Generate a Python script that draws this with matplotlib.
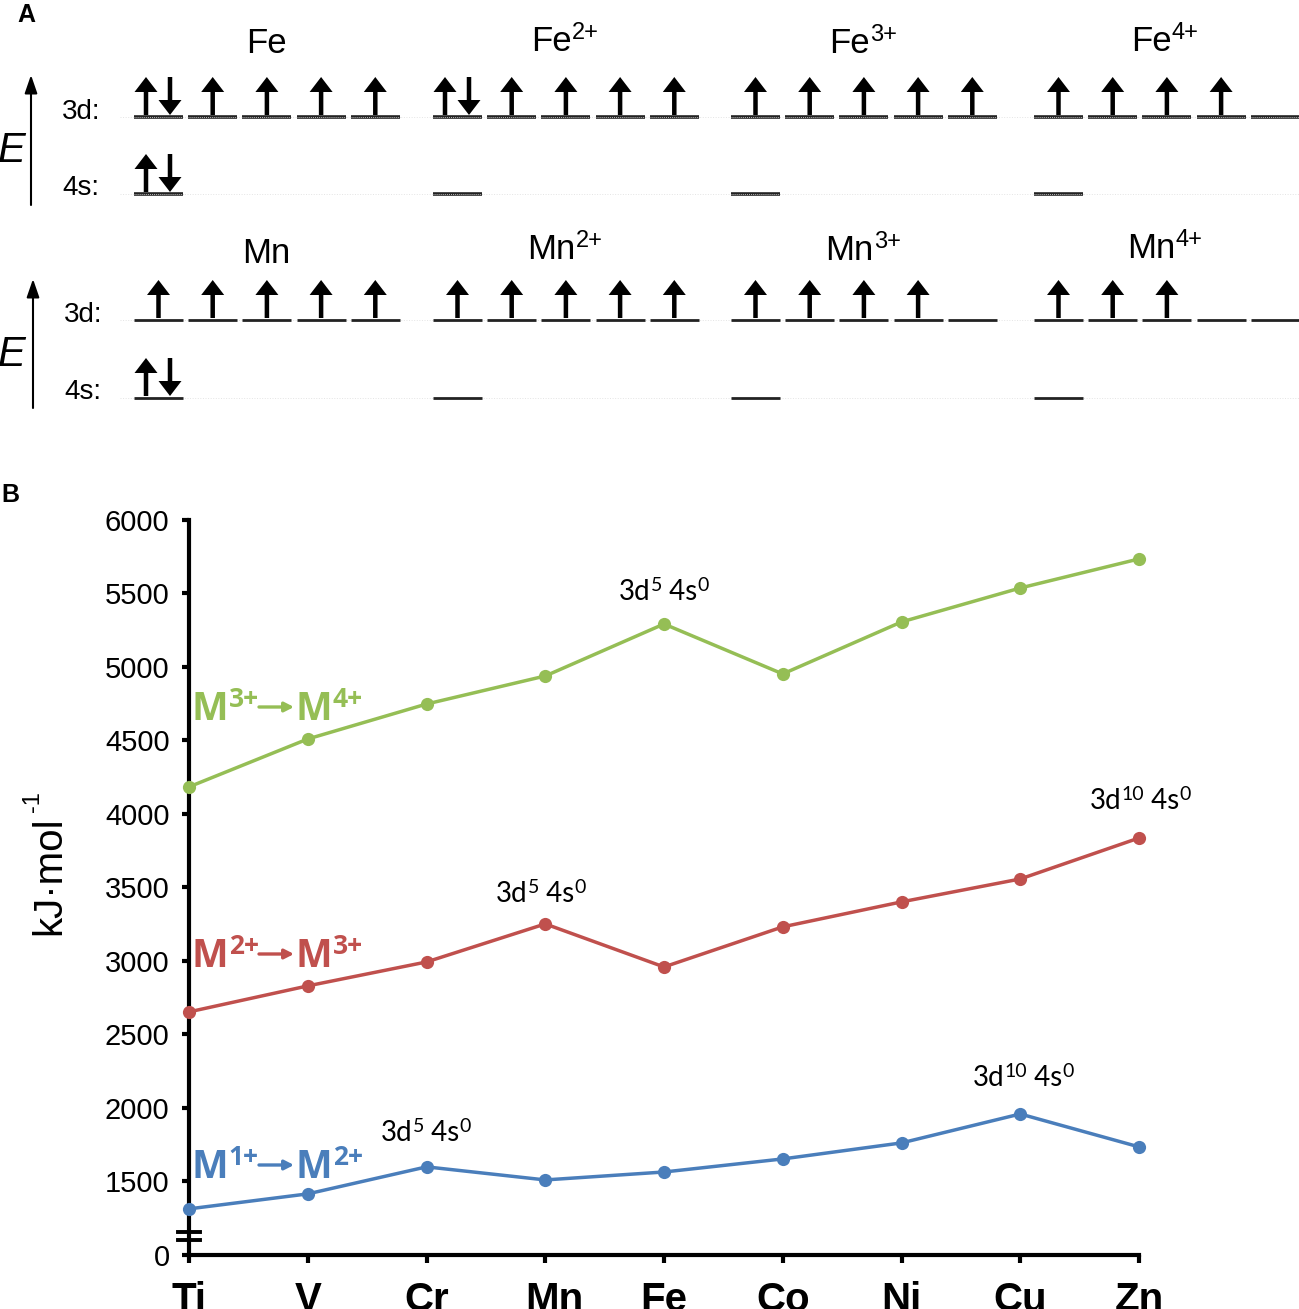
import matplotlib
matplotlib.use("Agg")
import matplotlib.pyplot as plt
from matplotlib.transforms import ScaledTranslation
import numpy as np

plt.rcParams['font.family'] = ['Liberation Sans', 'DejaVu Sans']

W, H = 1299, 1309

# panel A: electrons per orbital
fe_names = [("Fe", ""), ("Fe", "2+"), ("Fe", "3+"), ("Fe", "4+")]
fe_3d = [[2, 1, 1, 1, 1], [2, 1, 1, 1, 1], [1, 1, 1, 1, 1], [1, 1, 1, 1, 0]]
fe_4s = [2, 0, 0, 0]
mn_names = [("Mn", ""), ("Mn", "2+"), ("Mn", "3+"), ("Mn", "4+")]
mn_3d = [[1, 1, 1, 1, 1], [1, 1, 1, 1, 1], [1, 1, 1, 1, 0], [1, 1, 1, 0, 0]]
mn_4s = [2, 0, 0, 0]

# panel B: ionisation energies, kJ/mol
elements = ["Ti", "V", "Cr", "Mn", "Fe", "Co", "Ni", "Cu", "Zn"]
m34 = [4183, 4509, 4747, 4938, 5292, 4952, 5306, 5537, 5735]
m23 = [2651, 2828, 2991, 3250, 2957, 3230, 3400, 3556, 3835]
m12 = [1310, 1412, 1596, 1507, 1561, 1650, 1759, 1956, 1732]
yticks = [0, 1500, 2000, 2500, 3000, 3500, 4000, 4500, 5000, 5500, 6000]

GREEN = "#95BE55"
RED = "#C0504D"
BLUE = "#4A7EBB"
LABEL_FONT = ['Lato', 'DejaVu Sans']
BOLD_FONT = ['Open Sans', 'DejaVu Sans']

fig = plt.figure(figsize=(W / 100, H / 100), dpi=100)
renderer = fig.canvas.get_renderer()

# ---- panel B ----
left, right, top, bottom = 189, 1139, 520, 1255
ax = fig.add_axes([left / W, 1 - bottom / H, (right - left) / W, (bottom - top) / H])

# y axis is broken: squeezed below the knee, linear above it
KNEE = 1098
PX_LOW = 15
PX_PER_UNIT = 73.45 / 500


def forward(v):
    v = np.asarray(v, dtype=float)
    return np.where(v < KNEE, v * PX_LOW / KNEE, PX_LOW + (v - KNEE) * PX_PER_UNIT)


def inverse(p):
    p = np.asarray(p, dtype=float)
    return np.where(p < PX_LOW, p * KNEE / PX_LOW, KNEE + (p - PX_LOW) / PX_PER_UNIT)


ax.set_yscale('function', functions=(forward, inverse))
ax.set_ylim(0, 6000)
ax.set_xlim(0, len(elements) - 1)

xs = np.arange(len(elements))
for vals, col in [(m34, GREEN), (m23, RED), (m12, BLUE)]:
    ax.plot(xs, vals, color=col, lw=2.5, marker='o', ms=9.5, mew=0, clip_on=False, zorder=5)

ax.spines['top'].set_visible(False)
ax.spines['right'].set_visible(False)
ax.spines['left'].set_linewidth(3)
ax.spines['bottom'].set_linewidth(3)
ax.set_yticks(yticks)
ax.set_yticklabels([str(t) for t in yticks], fontsize=21)
ax.minorticks_off()
ax.set_xticks(xs)
ax.set_xticklabels(elements, fontsize=29, fontweight='bold')
ax.tick_params(axis='y', length=5, width=3, pad=9)
ax.tick_params(axis='x', length=6, width=3, pad=13)

# Mn sits a little right of its tick in the original
mn_label = ax.get_xticklabels()[elements.index("Mn")]
mn_label.set_transform(mn_label.get_transform() + ScaledTranslation(0.09, 0, fig.dpi_scale_trans))

# break marks on the y axis
for v in [1098, 1153]:
    ax.plot([-0.0115, 0.0115], [v, v], color='black', lw=2.8, clip_on=False,
            transform=ax.get_yaxis_transform(), zorder=6)

# ---- overlay in pixel coordinates, panel A and labels ----
ov = fig.add_axes([0, 0, 1, 1], facecolor='none')
ov.set_xlim(0, W)
ov.set_ylim(H, 0)
ov.axis('off')

ov.text(26, 15, "A", fontsize=18, fontweight='bold', ha='center', va='center')
ov.text(10, 495, "B", fontsize=18, fontweight='bold', ha='center', va='center')

ov.text(49, 935, "kJ·mol", fontsize=29, rotation=90, ha='center', va='bottom')
ov.text(33, 812, "-1", fontsize=17, rotation=90, ha='center', va='bottom')


def pieces(x, y, parts, center=False, **kw):
    # parts: (text, size, raise in px); placed one after another on a baseline
    texts = []
    cur = x
    for s, size, up in parts:
        if not s:
            continue
        t = ov.text(cur, y - up, s, fontsize=size, va='baseline', ha='left', **kw)
        cur += t.get_window_extent(renderer).width
        texts.append(t)
    if center:
        shift = (cur - x) / 2
        for t in texts:
            px, py = t.get_position()
            t.set_position((px - shift, py))
    return cur


def arrow(x, y0, y1):
    ov.arrow(x, y0, 0, y1 - y0, width=4.5, head_width=23, head_length=15,
             length_includes_head=True, color='black', lw=0)


def level(x0, y, n, hatched):
    ov.plot([x0, x0 + 49], [y, y], color='#222222', lw=2.6 if hatched else 2.0,
            solid_capstyle='butt')
    if hatched:
        ov.plot([x0, x0 + 49], [y, y], color='#bbbbbb', lw=0.7, ls=(0, (1, 1)))
    if n == 1:
        arrow(x0 + 24.5, y - 2, y - 40)
    elif n == 2:
        arrow(x0 + 12, y - 2, y - 40)
        arrow(x0 + 36, y - 40, y - 2)


group_x = [134, 433, 731, 1034]
label_x = [266, 565, 863, 1165]


def draw_row(names, d3, s4, y3, y4, base, hatched, x_txt, x_e, y_e, e_top, e_bot):
    ov.plot([120, W], [y3, y3], color='#e4e4e4', lw=0.7, ls=':')
    ov.plot([120, W], [y4, y4], color='#e4e4e4', lw=0.7, ls=':')
    for g, x0 in enumerate(group_x):
        for i, n in enumerate(d3[g]):
            level(x0 + i * 54.2, y3, n, hatched)
        level(x0, y4, s4[g], hatched)
        pieces(label_x[g], base[g], [(names[g][0], 25, 0), (names[g][1], 17, 12)], center=True)
    ov.text(x_txt, y3 + 2, "3d:", fontsize=20, va='baseline')
    ov.text(x_txt, y4 + 1, "4s:", fontsize=20, va='baseline')
    ov.annotate("", xy=(x_e, e_top), xytext=(x_e, e_bot),
                arrowprops=dict(arrowstyle='-|>,head_width=0.38,head_length=1.1', color='black',
                                lw=1.5, shrinkA=0, shrinkB=0))
    ov.text(12, y_e, "E", fontsize=30, style='italic', ha='center', va='baseline')


draw_row(fe_names, fe_3d, fe_4s, 117, 194, [53, 51, 53, 51], True, 62, 31, 162, 75, 205)
draw_row(mn_names, mn_3d, mn_4s, 320, 398, [263, 259, 260, 258], False, 64, 33, 366, 279, 408)

# configuration notes
for x, y, n in [(664, 600, "5"), (541, 902, "5"), (426, 1141, "5"),
                (1140, 809, "10"), (1023, 1086, "10")]:
    pieces(x, y, [("3d", 20, 0), (n, 14, 9), (" 4s", 20, 0), ("0", 14, 9)], center=True,
           family=LABEL_FONT)

# series labels
for y, a, b, col in [(720, "3+", "4+", GREEN), (967, "2+", "3+", RED), (1178, "1+", "2+", BLUE)]:
    for x, sup in [(192, a), (296, b)]:
        pieces(x, y, [("M", 28, 0), (sup, 19, 13)], color=col, fontweight='bold', family=BOLD_FONT)
    ov.annotate("", xy=(294, y - 13), xytext=(259, y - 13),
                arrowprops=dict(arrowstyle='-|>,head_width=0.28,head_length=0.55', color=col,
                                lw=2.4, shrinkA=0, shrinkB=0))

fig.savefig("out.png", dpi=100)
